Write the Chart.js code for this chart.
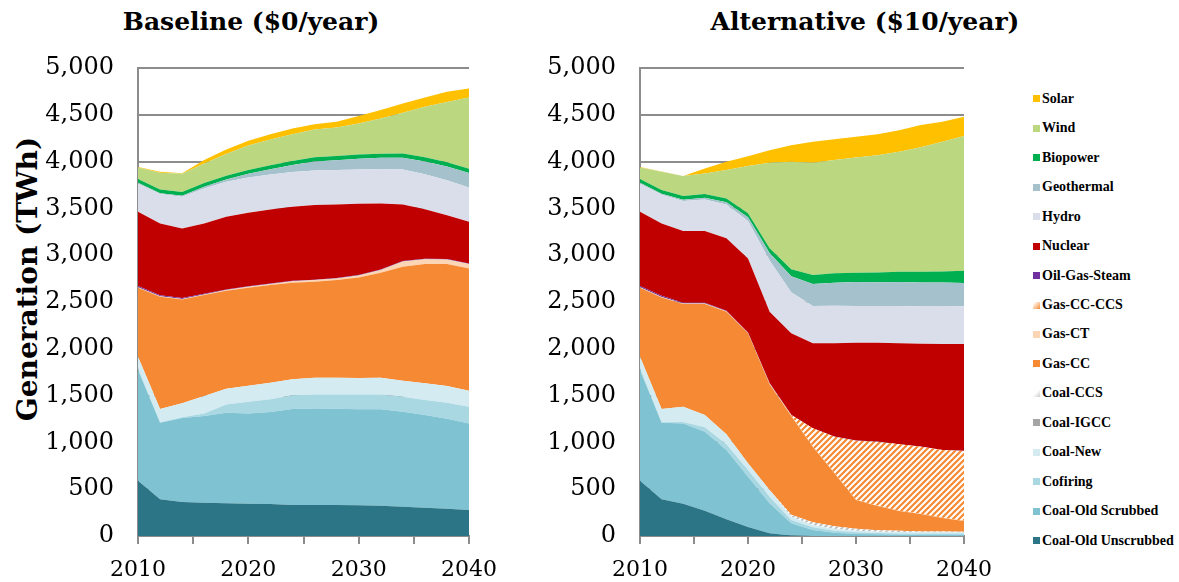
<!DOCTYPE html>
<html><head><meta charset="utf-8">
<script src="https://cdn.jsdelivr.net/npm/chart.js@4.4.0/dist/chart.umd.min.js"></script>
<style>
html,body{margin:0;padding:0;background:#fff;}
body{width:1179px;height:582px;overflow:hidden;position:relative;font-family:"DejaVu Serif",serif;color:#000;}
canvas{position:absolute;top:0;}
.title{position:absolute;top:7px;font-weight:bold;font-size:25px;white-space:nowrap;transform:translateX(-50%);}
#ytitle{position:absolute;left:27px;top:279px;font-weight:bold;font-size:28px;white-space:nowrap;transform:translate(-50%,-50%) rotate(-90deg);}
#legend{position:absolute;left:1033px;top:84px;font-family:"Liberation Serif",serif;font-weight:bold;font-size:14px;}
.li{height:29.47px;display:flex;align-items:center;white-space:nowrap;}
.sw{width:7px;height:7px;margin-right:2px;display:inline-block;}
</style></head><body>
<div class="title" style="left:251px">Baseline ($0/year)</div>
<div class="title" style="left:865px">Alternative ($10/year)</div>
<div id="ytitle">Generation (TWh)</div>
<canvas id="c1" width="510" height="582" style="left:0px;width:510px;height:582px"></canvas>
<canvas id="c2" width="505" height="582" style="left:500px;width:505px;height:582px"></canvas>
<div id="legend"></div>
<script>
const years = [2010,2012,2014,2016,2018,2020,2022,2024,2026,2028,2030,2032,2034,2036,2038,2040];
const seriesNames = ['Coal-Old Unscrubbed','Coal-Old Scrubbed','Cofiring','Coal-New','Coal-IGCC','Coal-CCS','Gas-CC','Gas-CT','Gas-CC-CCS','Oil-Gas-Steam','Nuclear','Hydro','Geothermal','Biopower','Wind','Solar'];
const yTicks = [0,500,1000,1500,2000,2500,3000,3500,4000,4500,5000];
const xTickLabels = [2010,2020,2030,2040];

// Baseline ($0/year), TWh
const b_unscrubbed = [590,392,363,356,349,345,342,331,331,331,328,324,313,302,292,278];
const b_scrubbed   = [1183,818,897,926,968,965,982,1025,1032,1029,1025,1029,1015,990,961,925];
const b_cofiring   = [20,5,10,28,89,124,136,147,150,153,160,160,160,160,171,178];
const b_coalNew    = [122,141,147,185,167,171,177,171,178,178,174,178,171,179,178,171];
const b_coalIGCC   = [0,0,0,0,0,0,0,0,0,0,0,0,0,0,0,0];
const b_coalCCS    = [0,0,0,0,0,0,0,0,0,0,0,0,0,0,0,0];
const b_gasCC      = [737,1200,1111,1079,1047,1047,1044,1032,1025,1043,1076,1121,1217,1274,1303,1307];
const b_gasCT      = [5,5,5,5,8,10,12,15,18,18,21,29,57,53,50,46];
const b_gasCCCCS   = [0,0,0,0,0,0,0,0,0,0,0,0,0,0,0,0];
const b_oil        = [15,12,10,8,6,5,5,5,5,5,5,5,5,5,5,5];
const b_nuclear    = [792,767,743,753,776,786,791,791,796,786,760,707,605,529,468,447];
const b_hydro      = [300,313,338,373,374,378,374,371,371,366,367,367,373,374,374,367];
const b_geo        = [10,10,12,18,25,40,55,75,95,105,115,120,125,135,145,155];
const b_bio        = [40,40,40,40,40,40,42,44,45,45,45,45,45,45,45,45];
const b_wind       = [124,178,194,210,231,262,277,286,298,306,332,376,435,539,646,761];
const b_solar      = [3,10,5,35,50,49,56,61,56,60,78,89,100,100,107,96];

// Alternative ($10/year), TWh
const a_unscrubbed = [590,392,345,270,180,95,30,5,0,0,0,0,0,0,0,0];
const a_scrubbed   = [1183,818,858,844,738,538,319,131,64,35,21,18,15,12,12,12];
const a_cofiring   = [20,5,15,47,61,72,71,35,29,22,18,14,13,14,14,14];
const a_coalNew    = [122,141,163,131,107,71,71,35,24,21,18,14,15,13,13,13];
const a_coalIGCC   = [0,0,0,0,0,0,0,0,0,0,0,0,0,0,0,0];
const a_coalCCS    = [0,0,0,0,0,0,0,20,30,25,20,15,12,10,8,6];
const a_gasCC      = [737,1193,1097,1186,1310,1389,1129,1056,807,567,308,259,212,186,145,115];
const a_gasCT      = [5,5,5,5,5,5,10,5,3,3,3,3,3,3,3,3];
const a_gasCCCCS   = [0,0,0,0,0,0,0,5,193,388,630,684,709,716,723,745];
const a_oil        = [15,12,10,8,6,5,4,3,2,2,2,2,2,2,2,2];
const a_nuclear    = [792,774,765,767,773,791,762,870,906,995,1045,1056,1077,1098,1130,1140];
const a_hydro      = [300,307,322,337,362,399,547,439,400,403,393,391,400,399,402,404];
const a_geo        = [10,10,12,18,25,40,80,170,235,245,255,255,255,255,255,250];
const a_bio        = [40,40,40,40,40,42,50,75,95,100,100,105,110,115,120,130];
const a_wind       = [124,195,214,221,302,505,915,1150,1200,1211,1232,1253,1282,1329,1384,1439];
const a_solar      = [3,3,0,53,90,106,134,177,223,223,220,224,231,238,214,206];

const baseline = [b_unscrubbed,b_scrubbed,b_cofiring,b_coalNew,b_coalIGCC,b_coalCCS,b_gasCC,b_gasCT,b_gasCCCCS,b_oil,b_nuclear,b_hydro,b_geo,b_bio,b_wind,b_solar];
const alternative = [a_unscrubbed,a_scrubbed,a_cofiring,a_coalNew,a_coalIGCC,a_coalCCS,a_gasCC,a_gasCT,a_gasCCCCS,a_oil,a_nuclear,a_hydro,a_geo,a_bio,a_wind,a_solar];

function hatch(fg, bg) {
  const c = document.createElement('canvas'); c.width = 6; c.height = 6;
  const g = c.getContext('2d');
  g.fillStyle = bg; g.fillRect(0,0,6,6);
  g.strokeStyle = fg; g.lineWidth = 2.2;
  g.beginPath();
  g.moveTo(-1,7); g.lineTo(7,-1);
  g.moveTo(-4,4); g.lineTo(4,-4);
  g.moveTo(2,10); g.lineTo(10,2);
  g.stroke();
  return g.createPattern(c, 'repeat');
}
const colors = ['#2C7587','#7FC3D3','#A9D8E3','#D4EBF1','#A5A5A5', hatch('#BFBFBF','#ffffff'), '#F68933','#FCD5B5', hatch('#F68933','#ffffff'), '#7030A0','#C00000','#D9DEEA','#A5C2CC','#00B050','#BBD780','#FFC000'];
const legendSwatch = ['#2C7587','#7FC3D3','#A9D8E3','#D4EBF1','#A5A5A5','linear-gradient(135deg,#fff 40%,#ccc 100%)','#F68933','#FCD5B5','linear-gradient(135deg,#fff 10%,#F68933 100%)','#7030A0','#C00000','#D9DEEA','#A5C2CC','#00B050','#BBD780','#FFC000'];

const serif = 'DejaVu Serif';
function makeChart(id, series, yWidth, padRight) {
  return new Chart(document.getElementById(id), {
    type: 'line',
    data: {
      datasets: seriesNames.map((n, i) => ({
        label: n,
        data: years.map((x, j) => ({x: x, y: series[i][j]})),
        backgroundColor: colors[i],
        borderWidth: 0,
        borderColor: 'rgba(0,0,0,0)',
        pointRadius: 0,
        fill: i === 0 ? 'origin' : '-1',
        tension: 0
      }))
    },
    options: {
      responsive: false,
      animation: false,
      layout: {padding: {top: 68, right: padRight, left: 0, bottom: 0}},
      plugins: {legend: {display: false}, tooltip: {enabled: false}},
      scales: {
        x: {
          type: 'linear', min: 2010, max: 2040,
          ticks: {stepSize: 5, autoSkip: false, maxRotation: 0, padding: 13, color: '#000',
            font: {family: serif, size: 22},
            callback: v => xTickLabels.includes(v) ? String(v) : ''},
          grid: {drawOnChartArea: false, drawTicks: true, tickLength: 8, color: '#8c8c8c', lineWidth: 2},
          border: {color: '#8c8c8c', width: 2},
          afterFit: s => { s.height = 46; }
        },
        y: {
          stacked: true, min: 0, max: 5000,
          afterBuildTicks: s => { s.ticks = yTicks.map(v => ({value: v})); },
          ticks: {padding: 24, color: '#000', font: {family: serif, size: 24},
            callback: v => v.toLocaleString('en-US')},
          grid: {color: '#8c8c8c', lineWidth: 2, drawTicks: false},
          border: {color: '#8c8c8c', width: 2},
          afterFit: s => { s.width = yWidth; }
        }
      }
    }
  });
}
makeChart('c1', baseline, 138, 31);
makeChart('c2', alternative, 140, 31);

const lg = document.getElementById('legend');
for (let i = seriesNames.length - 1; i >= 0; i--) {
  const row = document.createElement('div'); row.className = 'li';
  const sw = document.createElement('span'); sw.className = 'sw'; sw.style.background = legendSwatch[i];
  const t = document.createElement('span'); t.textContent = seriesNames[i];
  row.appendChild(sw); row.appendChild(t); lg.appendChild(row);
}
</script>
</body></html>
